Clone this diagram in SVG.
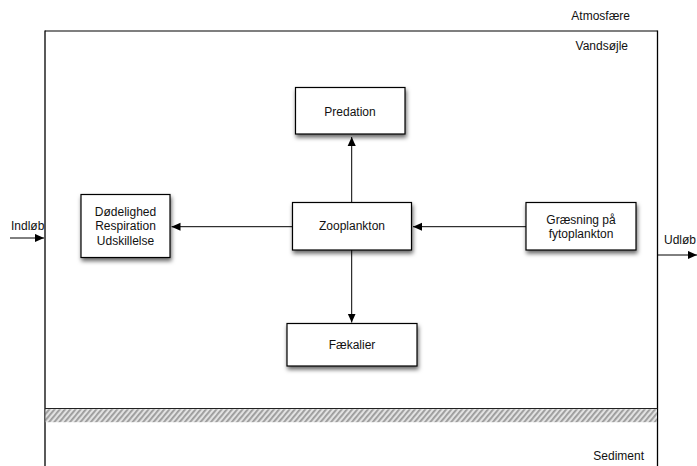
<svg xmlns="http://www.w3.org/2000/svg" width="697" height="466" viewBox="0 0 697 466">
  <defs>
    <style>
      text { font-family: "Liberation Sans", Arial, Helvetica, sans-serif; font-size: 12px; fill: #111; }
      .box { fill: #fff; stroke: #000; stroke-width: 1.2; filter: url(#shadow); }
      .edge { stroke: #000; stroke-width: 1; fill: none; }
      .wall { stroke: #000; stroke-width: 1.3; fill: none; }
    </style>
    <filter id="shadow" x="-20%" y="-20%" width="140%" height="160%">
      <feDropShadow dx="1" dy="3" stdDeviation="2.2" flood-color="#000" flood-opacity="0.6"/>
    </filter>
    <marker id="arrow" viewBox="0 0 10 10" refX="10" refY="5" markerWidth="9" markerHeight="9" markerUnits="userSpaceOnUse" orient="auto">
      <path d="M0,0.5 L10,5 L0,9.5 z" fill="#000"/>
    </marker>
    <pattern id="hatch" width="4" height="4" patternUnits="userSpaceOnUse" patternTransform="rotate(40)">
      <rect width="4" height="4" fill="#e2e2e2"/>
      <rect width="1.8" height="4" fill="#9a9a9a"/>
    </pattern>
  </defs>

  <!-- water column frame, sediment layer -->
  <g id="frame">
    <line x1="45" y1="31" x2="657.5" y2="31" stroke="#555" stroke-width="1.3"/>
    <line class="wall" x1="45" y1="30.5" x2="45" y2="466"/>
    <line class="wall" x1="657.5" y1="30.5" x2="657.5" y2="466"/>
    <line x1="45" y1="408.5" x2="657.5" y2="408.5" stroke="#222" stroke-width="1.2"/>
    <rect x="45.5" y="409.2" width="611.5" height="13" fill="url(#hatch)"/>
    <text x="630" y="20" text-anchor="end">Atmosfære</text>
    <text x="628" y="50" text-anchor="end">Vandsøjle</text>
    <text x="644" y="460" text-anchor="end">Sediment</text>
  </g>

  <g id="predation">
    <rect class="box" x="295.5" y="87.5" width="109.5" height="46.5"/>
    <text x="350" y="115.5" text-anchor="middle">Predation</text>
  </g>

  <g id="zooplankton">
    <rect class="box" x="292.5" y="202.5" width="119" height="47.5"/>
    <text x="352" y="230" text-anchor="middle">Zooplankton</text>
  </g>

  <g id="faekalier">
    <rect class="box" x="287" y="323.5" width="130" height="42.5"/>
    <text x="352" y="349" text-anchor="middle">Fækalier</text>
  </g>

  <g id="doedelighed">
    <rect class="box" x="81" y="194.5" width="89" height="63"/>
    <text x="125.5" y="216" text-anchor="middle">Dødelighed</text>
    <text x="125.5" y="230" text-anchor="middle">Respiration</text>
    <text x="125.5" y="245" text-anchor="middle">Udskillelse</text>
  </g>

  <g id="graesning">
    <rect class="box" x="526" y="202.5" width="110" height="47.5"/>
    <text x="581" y="224" text-anchor="middle">Græsning på</text>
    <text x="581" y="238" text-anchor="middle">fytoplankton</text>
  </g>

  <g id="indloeb">
    <text x="11" y="230">Indløb</text>
  </g>

  <g id="udloeb">
    <text x="664" y="244">Udløb</text>
  </g>

  <g id="connectors">
    <line class="edge" x1="351.7" y1="202.5" x2="351.7" y2="137" marker-end="url(#arrow)"/>
    <line class="edge" x1="351.7" y1="250" x2="351.7" y2="322.5" marker-end="url(#arrow)"/>
    <line class="edge" x1="292.5" y1="226.7" x2="171.5" y2="226.7" marker-end="url(#arrow)"/>
    <line class="edge" x1="526" y1="226.7" x2="413" y2="226.7" marker-end="url(#arrow)"/>
    <line class="edge" x1="10" y1="238" x2="44" y2="238" marker-end="url(#arrow)"/>
    <line class="edge" x1="658" y1="255" x2="697" y2="255" marker-end="url(#arrow)"/>
  </g>
</svg>
